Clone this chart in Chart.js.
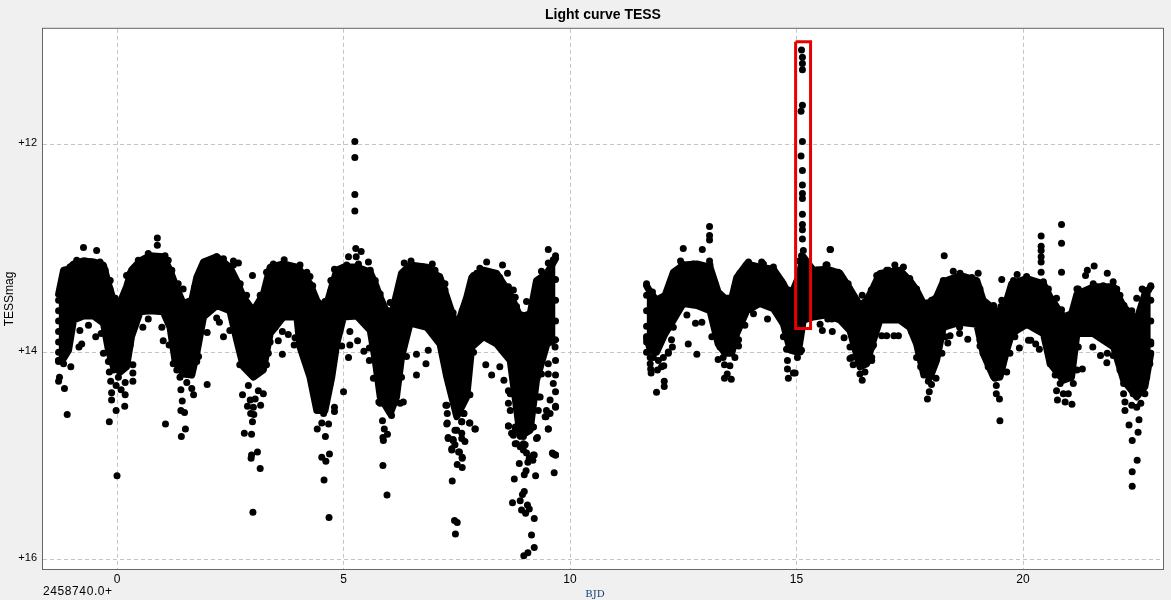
<!DOCTYPE html>
<html><head><meta charset="utf-8">
<style>html,body{margin:0;padding:0;background:#f0f0f0}#w{position:relative;width:1171px;height:600px}</style>
<script src="https://cdn.jsdelivr.net/npm/chart.js@4"></script></head>
<body><div id="w"><canvas id="c" width="1171" height="600"></canvas></div>
<script>
const xTickValues=[0,5,10,15,20];
const yTickValues=[12,14,16];
const bandTimesA=[-1.29,-1.18,-1.07,-0.96,-0.74,-0.52,-0.30,-0.19,-0.08,0.07,0.21,0.32,0.51,0.73,1.02,1.17,1.28,1.46,1.65,1.76,1.91,2.20,2.49,2.64,2.79,3.01,3.23,3.38,3.67,3.97,4.04,4.26,4.41,4.59,4.74,4.85,5.0,5.29,5.59,5.70,5.81,6.03,6.17,6.28,6.47,6.84,7.13,7.28,7.50,7.72,7.83,8.09,8.38,8.68,8.90,9.12,9.26,9.49,9.68];
const bandTopA=[13.44,13.21,13.20,13.15,13.12,13.13,13.16,13.34,13.50,13.52,13.37,13.21,13.12,13.07,13.08,13.21,13.34,13.53,13.50,13.28,13.13,13.08,13.18,13.31,13.47,13.60,13.44,13.18,13.15,13.18,13.21,13.34,13.50,13.60,13.37,13.21,13.18,13.18,13.23,13.34,13.47,13.69,13.44,13.24,13.16,13.18,13.28,13.47,13.76,13.47,13.28,13.21,13.24,13.44,13.66,13.63,13.31,13.24,13.10];
const bandBottomA=[14.08,14.06,13.98,13.69,13.65,13.65,13.72,13.98,14.14,14.19,14.14,13.85,13.61,13.60,13.61,13.76,14.08,14.21,14.22,14.01,13.66,13.55,13.60,13.88,14.14,14.24,14.17,13.82,13.66,13.66,13.95,14.24,14.56,14.56,14.24,13.92,13.66,13.65,13.79,14.08,14.43,14.59,14.43,14.05,13.72,13.76,13.92,14.24,14.62,14.43,13.95,13.85,13.92,14.08,14.81,14.75,14.27,13.92,13.88];
const bandTimesB=[11.69,11.77,11.91,12.1,12.28,12.5,12.8,13.09,13.27,13.42,13.57,13.68,13.9,14.19,14.49,14.71,14.86,15.04,15.15,15.37,15.67,15.96,16.18,16.4,16.55,16.7,16.84,17.28,17.5,17.65,17.8,17.95,18.09,18.24,18.61,18.98,19.12,19.35,19.49,19.64,19.75,20.08,20.45,20.6,20.89,21.07,21.19,21.55,22.0,22.22,22.51,22.69,22.82];
const bandTopB=[13.36,13.42,13.50,13.45,13.23,13.16,13.15,13.18,13.42,13.48,13.48,13.28,13.15,13.18,13.20,13.34,13.47,13.28,13.08,13.21,13.20,13.24,13.39,13.55,13.50,13.37,13.24,13.21,13.31,13.40,13.53,13.52,13.47,13.32,13.26,13.31,13.50,13.58,13.63,13.50,13.34,13.29,13.34,13.47,13.66,13.63,13.44,13.37,13.37,13.56,13.69,13.44,13.37];
const bandBottomB=[13.85,13.98,14.00,13.82,13.69,13.53,13.55,13.60,13.92,14.01,14.01,13.82,13.60,13.53,13.58,13.73,13.98,14.00,13.69,13.66,13.64,13.69,13.79,14.14,14.11,13.88,13.69,13.69,13.76,13.92,14.20,14.24,14.08,13.76,13.71,13.73,14.01,14.24,14.24,13.98,13.82,13.73,13.82,14.11,14.27,14.24,13.82,13.82,13.95,14.27,14.43,14.33,14.01];
const dotsFirstDips=[[-0.74,12.99],[-0.45,13.02],[0.89,12.90],[0.89,12.97],[2.68,13.14],[2.99,13.26],[0.21,13.26],[-0.155,13.39],[-0.04,13.48],[0.10,13.50],[1.46,13.39],[2.57,13.12],[3.69,13.11],[0.57,13.76],[0.99,13.76],[0.69,13.68],[-0.63,13.74],[-0.82,13.79],[-0.78,13.92],[-0.84,13.95],[-0.47,13.85],[-0.35,13.82],[1.02,13.89],[1.15,13.93],[1.99,13.81],[2.35,13.85],[2.2,13.67],[2.26,13.71],[2.49,13.79],[3.56,13.89],[3.65,14.02],[3.91,13.93],[3.78,13.83],[3.65,13.80],[3.49,13.76],[3.93,13.86],[-1.29,14.09],[-1.18,14.11],[-1.02,14.14],[-1.27,14.24],[-1.29,14.28],[-1.16,14.35],[-1.10,14.60],[-0.30,14.01],[-0.17,14.19],[-0.14,14.28],[-0.12,14.39],[-0.12,14.46],[-0.02,14.56],[-0.17,14.67],[0.17,14.52],[0.18,14.41],[0.18,14.29],[0.35,14.12],[0.35,14.20],[0.35,14.28],[-0.02,14.32],[0.09,14.36],[0.03,14.24],[1.07,14.69],[1.32,14.17],[1.39,14.24],[1.41,14.36],[1.54,14.29],[1.65,14.35],[1.69,14.41],[1.44,14.47],[1.41,14.56],[1.49,14.58],[1.51,14.74],[1.42,14.81],[1.99,14.31],[2.77,14.41],[2.90,14.32],[3.12,14.37],[3.23,14.40],[3.05,14.45],[2.94,14.46],[2.88,14.52],[3.17,14.51],[3.01,14.53],[2.95,14.59],[3.02,14.60],[2.99,14.67],[2.81,14.78],[2.97,14.79],[3.10,14.96],[2.97,14.99],[0.0,15.19],[3.0,15.54],[3.16,15.12],[2.96,15.02]];
const dotsMiddleDips=[[4.57,15.23],[4.68,15.59],[4.61,15.05],[5.96,15.375],[5.87,15.09],[5.87,14.82],[5.27,13.0],[5.11,13.08],[5.28,13.08],[5.39,13.03],[5.55,13.13],[5.33,13.15],[4.80,13.20],[4.26,13.27],[4.32,13.36],[4.72,13.31],[4.72,13.41],[4.59,13.51],[4.54,13.61],[5.11,14.05],[5.0,14.38],[4.52,14.68],[4.67,14.69],[4.42,14.74],[4.6,14.81],[4.52,15.01],[4.69,14.98],[4.8,14.53],[4.8,14.57],[4.30,14.30],[4.67,14.30],[4.36,14.42],[4.41,14.53],[5.14,13.93],[4.96,13.94],[5.14,13.80],[5.31,13.89],[5.45,13.99],[5.57,13.96],[5.57,14.08],[5.66,14.25],[6.03,13.52],[5.98,13.60],[6.34,13.14],[6.49,13.12],[6.96,13.15],[7.12,13.27],[7.24,13.34],[7.24,13.40],[6.39,14.04],[6.61,14.02],[6.61,14.22],[6.82,14.11],[6.87,13.98],[5.86,14.66],[5.90,14.74],[5.97,14.79],[5.88,14.85],[6.32,14.48],[5.78,14.48],[7.42,13.62],[7.62,13.60],[7.48,13.73],[8.14,14.12],[8.45,14.14],[8.27,14.22],[8.54,14.27],[8.16,13.13],[8.01,13.19],[7.87,13.26],[8.51,13.16],[8.62,13.24],[8.75,13.40],[8.79,13.47],[8.82,13.56],[8.93,13.64],[9.04,13.51],[9.15,13.60],[9.37,13.22],[9.52,13.01],[9.52,13.14],[9.68,13.07],[9.63,13.11],[7.79,13.42],[7.76,13.50]];
const dotsLateDips=[[7.28,14.69],[7.31,14.83],[7.42,14.85],[7.39,14.93],[7.54,14.96],[7.62,15.02],[7.68,14.86],[7.79,14.68],[7.90,14.74],[7.61,14.67],[7.5,14.75],[8.64,14.71],[8.75,14.80],[9.28,14.82],[9.52,14.74],[9.47,14.62],[9.68,14.53],[9.56,14.46],[9.68,14.38],[9.68,14.22],[9.52,14.21],[9.63,14.30],[9.52,14.11],[9.67,13.95],[9.68,14.08],[9.19,14.99],[9.63,14.98],[9.68,14.99],[8.82,14.88],[8.97,14.88],[8.64,14.49],[8.68,14.40],[9.34,14.43],[9.30,14.56],[7.40,15.24],[7.45,15.62],[7.51,15.64],[7.47,15.75],[7.51,15.08],[7.62,15.11],[7.62,15.01],[7.56,14.96],[7.39,14.94],[7.46,14.89],[7.31,14.82],[7.42,14.84],[7.61,14.83],[7.61,14.78],[7.46,14.75],[7.29,14.68],[7.61,14.67],[7.78,14.68],[7.91,14.74],[7.66,14.59],[7.29,14.59],[7.26,14.51],[7.46,14.51],[8.77,15.22],[8.99,15.18],[9.03,15.14],[9.24,15.19],[8.88,15.07],[9.07,15.06],[9.18,15.04],[9.10,15.02],[9.21,14.99],[8.99,15.34],[8.95,15.37],[8.90,15.43],[8.73,15.45],[9.06,15.47],[8.93,15.52],[9.02,15.55],[9.10,15.51],[9.21,15.60],[9.15,15.76],[9.21,15.88],[9.07,15.93],[8.98,15.96],[9.65,15.16],[9.61,14.97],[9.68,14.99],[9.52,14.74],[9.68,14.52],[9.26,14.83],[8.64,14.71],[8.71,14.78],[8.79,14.88],[8.90,14.91],[9.01,14.89],[8.97,14.81],[9.04,14.97],[9.19,14.72],[8.79,14.72],[9.48,14.56],[9.45,14.62],[9.56,14.59]];
const dotsFirstSpike=[[5.25,11.97],[5.25,12.125],[5.25,12.48],[5.25,12.64]];
const dotsFlare=[[15.11,11.09],[15.13,11.16],[15.13,11.22],[15.13,11.28],[15.13,11.62],[15.10,11.68],[15.13,11.97],[15.10,12.11],[15.13,12.25],[15.13,12.39],[15.13,12.47],[15.13,12.52],[15.13,12.67],[15.13,12.77],[15.13,12.82],[15.13,12.91],[15.15,13.02],[15.11,13.07],[15.06,13.12]];
const dotsSecondEarly=[[15.74,13.01],[15.65,13.16],[14.23,13.13],[13.08,12.79],[13.08,12.875],[13.08,12.92],[12.50,13.0],[12.92,13.01],[13.08,13.12],[12.44,13.12],[11.69,13.34],[11.82,13.42],[12.61,13.92],[12.8,14.02],[12.77,13.72],[12.91,13.71],[12.58,13.64],[13.27,14.07],[13.41,14.12],[13.53,14.13],[13.41,14.25],[13.47,14.21],[13.56,14.26],[13.72,13.94],[13.86,13.74],[14.05,13.63],[14.36,13.68],[14.8,14.08],[14.8,14.16],[14.82,14.25],[14.93,14.2],[14.97,14.2],[15.02,14.05],[15.11,13.98],[11.77,14.11],[11.78,14.16],[11.79,14.2],[11.93,14.17],[12.02,14.14],[12.07,14.13],[12.08,14.28],[12.08,14.33],[11.91,14.385],[11.84,14.05],[11.95,14.08],[12.06,14.05],[12.17,14.01],[12.26,13.95],[12.24,13.88],[15.52,13.73],[15.57,13.79],[15.79,13.80],[15.69,13.68],[15.78,13.68],[16.0,13.68],[16.05,13.86],[16.45,13.45],[16.65,13.40],[16.62,13.50],[16.88,13.84],[16.99,13.84],[17.15,13.84],[17.25,13.84],[16.67,13.95],[16.18,14.06],[16.25,14.12],[16.4,14.21],[16.45,14.27],[16.51,14.19],[16.66,14.05],[15.75,13.01],[15.67,13.16],[16.81,13.26],[16.99,13.21],[17.17,13.16]];
const dotsSecondLate=[[17.36,13.18],[18.26,13.07],[18.46,13.22],[19.01,13.24],[19.53,13.30],[19.53,13.50],[19.51,13.56],[19.87,13.25],[19.79,13.31],[20.4,12.88],[20.4,12.98],[20.4,13.02],[20.4,13.08],[20.4,13.13],[20.4,13.23],[20.85,12.77],[20.85,12.95],[20.85,13.23],[20.85,13.59],[21.57,13.17],[21.42,13.21],[21.38,13.26],[21.86,13.24],[21.99,13.32],[21.19,13.39],[22.14,13.45],[22.23,13.55],[22.4,13.60],[22.51,13.48],[22.4,13.68],[22.63,13.39],[22.82,13.36],[22.77,13.40],[17.54,13.80],[18.34,13.91],[18.39,13.84],[18.6,13.82],[18.6,13.76],[18.78,13.875],[19.05,13.885],[19.05,13.94],[19.92,13.96],[20.12,13.885],[20.17,13.885],[20.28,13.92],[20.36,13.97],[21.31,14.16],[21.54,13.95],[21.71,14.03],[21.86,14.01],[21.85,14.10],[21.99,14.03],[17.74,14.14],[17.81,14.22],[17.91,14.28],[17.98,14.31],[17.93,14.38],[17.89,14.45],[18.08,14.25],[19.64,14.19],[19.41,14.32],[19.41,14.40],[19.48,14.45],[19.38,14.25],[20.74,14.37],[20.76,14.46],[20.89,14.40],[20.93,14.48],[21.08,14.50],[21.0,14.40],[20.82,14.30],[21.11,14.30],[22.22,14.30],[22.22,14.40],[22.25,14.48],[22.4,14.51],[22.51,14.53],[22.6,14.49],[22.69,14.40],[22.73,14.24],[22.43,14.40],[22.36,14.33],[22.41,15.15],[22.41,15.29],[22.52,15.04],[22.54,14.77],[22.56,14.65],[22.41,14.85],[22.25,14.56],[22.34,14.70],[19.49,14.66]];
const dotsEdgeA=[[-1.29,13.5],[-1.29,13.6],[-1.29,13.7],[-1.29,13.8],[-1.29,13.9],[-1.29,14.0],[-1.29,14.08],[9.68,13.3],[9.68,13.5],[9.68,13.7],[-1.04,13.18],[-0.89,13.115],[-0.71,13.12],[-0.56,13.13],[-0.375,13.13],[-0.26,13.21],[-0.15,13.31],[0.29,13.24],[0.47,13.115],[0.69,13.05],[1.06,13.07],[1.13,13.115],[1.21,13.21],[1.35,13.34],[1.72,13.37],[1.83,13.24],[1.94,13.13],[2.2,13.08],[2.35,13.10],[2.57,13.16],[2.72,13.34],[2.86,13.45],[3.16,13.45],[3.3,13.23],[3.45,13.15],[3.67,13.15],[4.04,13.16],[4.19,13.23],[-0.19,14.09],[-0.08,14.17],[0.25,14.11],[0.29,13.93],[1.24,14.11],[1.76,14.09],[1.8,14.04],[2.71,14.12],[3.3,14.12],[3.34,14.01],[3.38,13.90],[4.92,13.21],[5.07,13.16],[5.59,13.21],[5.7,13.31],[5.81,13.44],[6.25,13.40],[6.36,13.23],[6.76,13.18],[7.02,13.21],[7.94,13.24],[8.23,13.23],[8.45,13.28],[8.64,13.37],[4.22,14.14],[4.33,14.32],[4.56,14.59],[4.70,14.30],[4.74,14.11],[4.78,14.04],[5.81,14.49],[6.06,14.61],[6.25,14.49],[6.28,14.24],[7.28,14.51],[7.65,14.59],[7.79,14.41],[7.76,14.17],[7.87,14.0],[8.64,14.37],[8.68,14.56],[8.79,14.75],[8.97,14.94],[9.19,14.72],[9.30,14.43],[9.37,14.21],[9.37,14.05]];
const dotsEdgeB=[[11.69,13.45],[11.69,13.6],[11.69,13.75],[11.69,13.9],[11.69,14.0],[22.82,13.5],[22.82,13.7],[22.82,13.9],[11.99,13.48],[12.32,13.24],[12.47,13.15],[12.72,13.15],[13.09,13.16],[13.2,13.34],[13.31,13.45],[13.64,13.37],[13.75,13.24],[13.94,13.13],[14.27,13.15],[14.49,13.18],[14.67,13.32],[14.82,13.40],[15.45,13.21],[15.67,13.16],[15.92,13.23],[16.14,13.34],[16.33,13.50],[16.77,13.26],[17.03,13.21],[11.69,13.87],[11.77,14.05],[12.17,13.998],[12.28,13.76],[13.13,13.85],[13.31,13.95],[13.38,14.05],[13.64,14.05],[13.72,13.88],[14.71,13.85],[14.78,13.97],[15.08,13.998],[16.18,13.95],[16.22,14.05],[16.66,14.08],[16.7,13.93],[17.5,13.29],[17.65,13.39],[17.98,13.50],[18.24,13.31],[18.61,13.24],[18.87,13.28],[19.05,13.39],[19.35,13.55],[19.75,13.37],[20.08,13.27],[20.45,13.32],[20.56,13.39],[20.74,13.48],[21.07,13.63],[21.22,13.39],[21.55,13.34],[21.77,13.36],[22.07,13.39],[22.66,13.40],[17.65,14.05],[18.21,14.01],[18.28,13.85],[19.12,14.01],[19.23,14.14],[19.71,14.01],[19.82,13.85],[20.6,14.11],[20.71,14.22],[21.19,14.17],[21.22,13.95],[22.14,14.17],[22.8,14.11],[22.82,13.92]];
const highlightBox=[[14.98,11.01],[15.31,11.01],[15.31,13.77],[14.98,13.77],[14.98,11.01]];
const pts=a=>a.map(([x,y])=>({x,y}));
const zip=(t,m)=>t.map((x,i)=>({x,y:m[i]}));
const band=(t,m,fill)=>({type:'line',data:zip(t,m),fill,backgroundColor:'#000',borderColor:'#000',borderWidth:7,borderJoinStyle:'round',borderCapStyle:'round',pointRadius:0,tension:0,order:5});
const dots=a=>({type:'scatter',data:pts(a),backgroundColor:'#000',borderColor:'#000',pointRadius:3.5,borderWidth:0,order:4});
const frame={id:'frame',
 beforeDraw(c){const a=c.chartArea,g=c.ctx;g.save();g.fillStyle='#fff';g.fillRect(a.left,a.top,a.width,a.height);g.restore();},
 afterDraw(c){const a=c.chartArea,g=c.ctx;g.save();g.strokeStyle='#666';g.lineWidth=1;g.strokeRect(a.left-.5,a.top-.5,a.width+1,a.height+1);
 g.fillStyle='#000';g.font='12px "Liberation Sans"';g.letterSpacing='0.6px';g.textBaseline='middle';g.fillText('2458740.0+',43,592);g.restore();}};
new Chart(document.getElementById('c'),{type:'scatter',plugins:[frame],
 data:{datasets:[
  band(bandTimesA,bandTopA,'+1'),band(bandTimesA,bandBottomA,false),
  band(bandTimesB,bandTopB,'+1'),band(bandTimesB,bandBottomB,false),
  dots(dotsEdgeA),dots(dotsEdgeB),
  dots(dotsFirstDips),dots(dotsMiddleDips),dots(dotsLateDips),dots(dotsFirstSpike),dots(dotsFlare),dots(dotsSecondEarly),dots(dotsSecondLate),
  {type:'line',data:pts(highlightBox),borderColor:'#e60000',borderWidth:3,pointRadius:0,fill:false,tension:0,order:1,borderJoinStyle:'miter'}
 ]},
 options:{responsive:false,animation:false,
  layout:{padding:{left:0,right:8,top:0,bottom:0}},
  plugins:{legend:{display:false},tooltip:{enabled:false},
   title:{display:true,fullSize:false,text:'Light curve TESS',color:'#000',font:{family:'"Liberation Sans"',size:14,weight:'bold'},padding:{top:7,bottom:5}}},
  scales:{
   x:{type:'linear',min:-1.634,max:23.09,afterBuildTicks:s=>{s.ticks=xTickValues.map(value=>({value}))},
    grid:{color:'#c4c4c4',drawTicks:false},border:{display:false,dash:[4,3]},
    ticks:{color:'#000',padding:3,maxRotation:0,font:{family:'"Liberation Sans"',size:12}},
    title:{display:true,text:'BJD     ',color:'#10406e',padding:0,font:{family:'"DejaVu Serif"',size:10}},
    afterFit:s=>{s.height=31}},
   y:{type:'linear',reverse:true,min:10.885,max:16.087,afterBuildTicks:s=>{s.ticks=yTickValues.map(value=>({value}))},
    grid:{color:'#c4c4c4',drawTicks:false},border:{display:false,dash:[4,3]},
    ticks:{color:'#000',padding:6,labelOffset:-1.5,callback:v=>'+'+v,font:{family:'"Liberation Sans"',size:11}},
    title:{display:true,text:'TESSmag',color:'#000',padding:{top:2,bottom:0},font:{family:'"Liberation Sans"',size:12}},
    afterFit:s=>{s.width=43}}
  }}});
</script></body></html>
